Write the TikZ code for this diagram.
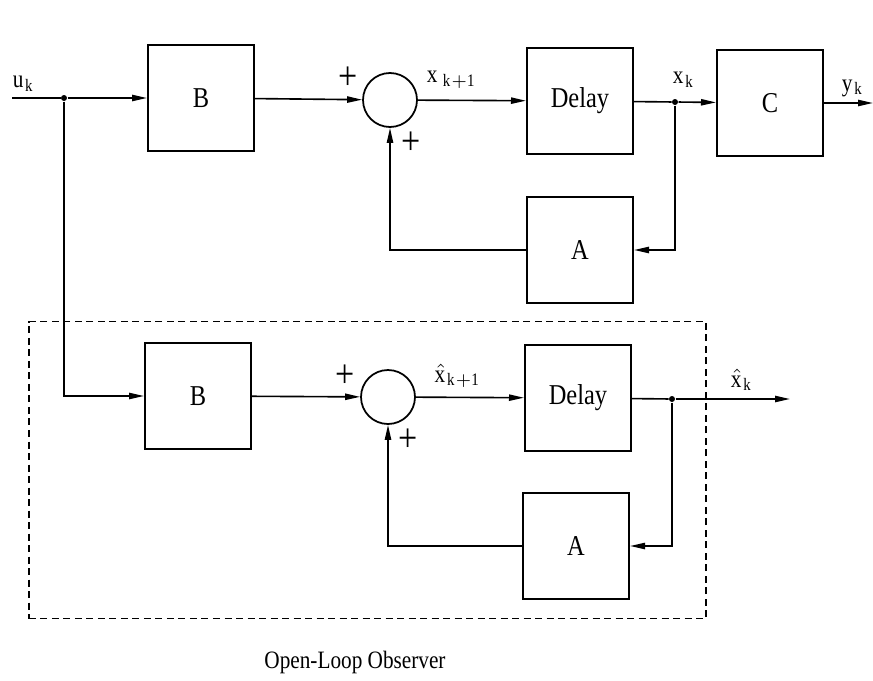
\documentclass[tikz,border=0pt]{standalone}
\usepackage{fontspec}
\setmainfont{Liberation Serif}[FakeStretch=0.85]
\usepackage{tikz}
\usetikzlibrary{arrows.meta, positioning}

\begin{document}
\begin{tikzpicture}[
  x=0.4pt, y=-0.4pt,
  font=\fontsize{10}{12}\selectfont,
  block/.style={draw, line width=0.8pt, minimum size=42.4pt, inner sep=0pt, font=\fontsize{11.5}{13}\selectfont},
  sumnode/.style={draw, circle, line width=0.7pt, minimum size=21.6pt, inner sep=0pt},
  sign/.style={font=\fontsize{16}{16}\selectfont, inner sep=0pt},
  dot/.style={circle, fill, inner sep=0pt, minimum size=2.4pt},
  wire/.style={line width=0.65pt},
  arrow/.style={wire, -{Triangle[length=6pt, width=2.5pt]}},
  frame/.style={draw, dashed, dash pattern=on 2.8pt off 1.8pt, line width=0.7pt, inner sep=0pt}
]
\useasboundingbox (0,0) rectangle (873,680);

% plant
\coordinate (uin) at (12,98);
\node[dot] (ju) at (64,98) {};
\node[block] (B1) at (201,98) {B};
\node[sumnode] (S1) at (390,100) {};
\node[block] (D1) at (580,101) {Delay};
\node[dot] (jx) at (675,102) {};
\node[block] (C) at (770,103) {C};
\coordinate (yout) at (873,103);
\node[block] (A1) at (580,250) {A};

\node (ulab) at (24,84) {$\mathrm{u}_{\mathrm{k}}$};
\node (xnext) at (452,80) {$\mathrm{x}_{\,\mathrm{k+1}}$};
\node (xlab) at (684,80) {$\mathrm{x}_{\mathrm{k}}$};
\node (ylab) at (853,88) {$\mathrm{y}_{\mathrm{k}}$};
\node[sign] (p1) at (348,78) {+};
\node[sign] (p2) at (411,143) {+};

\draw[wire] (uin) -- (ju);
\draw[arrow] (ju) -- (B1);
\draw[arrow] (B1) -- (S1);
\draw[arrow] (S1) -- (D1);
\draw[wire] (D1) -- (jx);
\draw[arrow] (jx) -- (C);
\draw[arrow] (C) -- (yout);
\draw[arrow] (jx) |- (A1);
\draw[arrow] (A1) -| (S1);

% observer
\node[frame, minimum width=270.8pt, minimum height=118.8pt] (observer) at (367.5,470) {};
\node[block] (B2) at (198,396) {B};
\node[sumnode] (S2) at (388,397) {};
\node[block] (D2) at (578,398) {Delay};
\node[dot] (jxh) at (672,399) {};
\coordinate (xhout) at (790,399);
\node[block] (A2) at (576,546) {A};

\node (xhnext) at (458,376) {$\hat{\mathrm{x}}_{\mathrm{k+1}}$};
\node (xhlab) at (742,380) {$\hat{\mathrm{x}}_{\mathrm{k}}$};
\node[sign] (p3) at (345,376) {+};
\node[sign] (p4) at (408,440) {+};

\draw[arrow] (ju) |- (B2);
\draw[arrow] (B2) -- (S2);
\draw[arrow] (S2) -- (D2);
\draw[wire] (D2) -- (jxh);
\draw[arrow] (jxh) -- (xhout);
\draw[arrow] (jxh) |- (A2);
\draw[arrow] (A2) -| (S2);

\node (caption) at (355,662) {Open-Loop Observer};
\end{tikzpicture}
\end{document}
